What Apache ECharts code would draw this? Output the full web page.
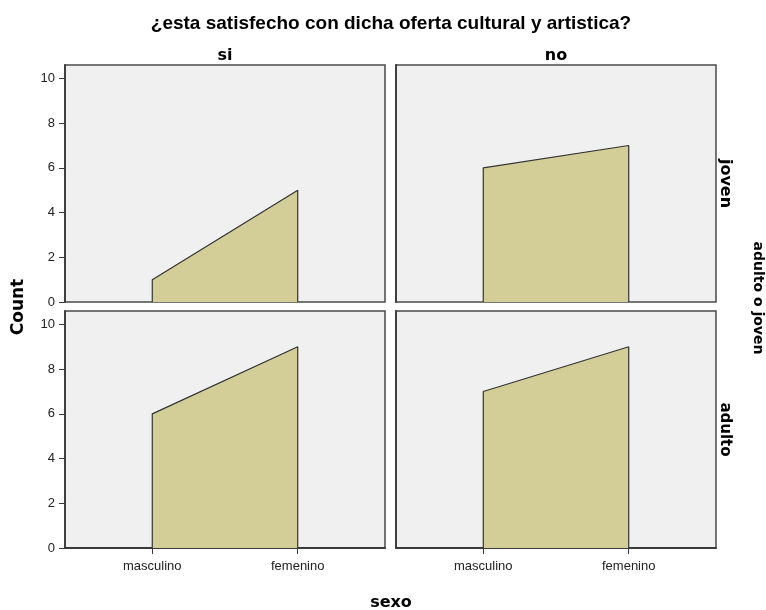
<!DOCTYPE html>
<html>
<head>
<meta charset="utf-8">
<script src="https://cdn.jsdelivr.net/npm/echarts@6/dist/echarts.min.js"></script>
<style>html,body{margin:0;padding:0;background:#fff}#c{width:766px;height:610px}</style>
</head>
<body>
<div id="c"></div>
<script>
const title = '¿esta satisfecho con dicha oferta cultural y artistica?';
const categories = ['masculino', 'femenino'];
const columns = ['si', 'no'];
const rows = ['joven', 'adulto'];
const siJoven = [1, 5];
const noJoven = [6, 7];
const siAdulto = [6, 9];
const noAdulto = [7, 9];
const yTicks = [0, 2, 4, 6, 8, 10];
const yLabel = 'Count';
const xLabel = 'sexo';
const rowLabel = 'adulto o joven';

const panels = [
  {vals: siJoven, r: 0, c: 0},
  {vals: noJoven, r: 0, c: 1},
  {vals: siAdulto, r: 1, c: 0},
  {vals: noAdulto, r: 1, c: 1}
];

const lefts = [65, 396];
const tops = [65, 311];
const W = 320, H = 237;
const fill = '#d3ce98';
const dark = '#3a3a3a';

const grid = [], xAxis = [], yAxis = [], series = [];
panels.forEach((p, i) => {
  grid.push({left: lefts[p.c], top: tops[p.r], width: W, height: H, show: true,
    backgroundColor: '#f0f0f0', borderColor: '#4a4a4a', borderWidth: 1.5});
  const catIdx = categories.map((_, k) => k);
  xAxis.push({type: 'value', gridIndex: i, min: -0.6, max: 1.6,
    axisLine: {show: p.r === 1, onZero: false, lineStyle: {color: dark, width: 1.8}},
    axisTick: {show: p.r === 1, customValues: catIdx, length: 6, lineStyle: {color: dark}},
    axisLabel: {show: p.r === 1, customValues: catIdx, margin: 12, fontSize: 13,
      fontFamily: 'Liberation Sans', color: '#222', formatter: v => categories[Math.round(v)] || ''},
    splitLine: {show: false}});
  yAxis.push({type: 'value', gridIndex: i, min: 0, max: 10.6,
    axisLine: {show: true, onZero: false, lineStyle: {color: dark, width: 1.8}},
    axisTick: {show: p.c === 0, customValues: yTicks, length: 6, lineStyle: {color: dark}},
    axisLabel: {show: p.c === 0, customValues: yTicks, margin: 10, fontSize: 13,
      fontFamily: 'Liberation Sans', color: '#222'},
    splitLine: {show: false}});
  const data = [[0, 0]];
  p.vals.forEach((v, k) => data.push([k, v]));
  data.push([p.vals.length - 1, 0]);
  series.push({type: 'line', xAxisIndex: i, yAxisIndex: i, data: data,
    showSymbol: false, symbol: 'none', silent: true,
    lineStyle: {color: '#333', width: 1.2},
    areaStyle: {color: fill, opacity: 1, origin: 'start'}});
});

function txt(text, x, y, size, family, rot) {
  return {type: 'text', x: x, y: y, rotation: rot || 0,
    style: {text: text, fontSize: size, fontFamily: family, fontWeight: 'bold', fill: '#000',
      align: 'center', verticalAlign: 'middle'}};
}
const graphic = [
  txt(title, 391, 24, 19, 'Liberation Sans'),
  txt(columns[0], lefts[0] + W / 2, 56, 16, 'DejaVu Sans'),
  txt(columns[1], lefts[1] + W / 2, 56, 16, 'DejaVu Sans'),
  txt(rows[0], 725, tops[0] + H / 2, 16, 'DejaVu Sans', -Math.PI / 2),
  txt(rows[1], 725, tops[1] + H / 2, 15, 'DejaVu Sans', -Math.PI / 2),
  txt(rowLabel, 758, 298, 14, 'DejaVu Sans', -Math.PI / 2),
  txt(yLabel, 19, 307, 17, 'DejaVu Sans', Math.PI / 2),
  txt(xLabel, 391, 603, 16, 'DejaVu Sans')
];

const chart = echarts.init(document.getElementById('c'), null, {renderer: 'canvas'});
chart.setOption({animation: false, backgroundColor: '#fff', grid, xAxis, yAxis, series, graphic});
</script>
</body>
</html>
